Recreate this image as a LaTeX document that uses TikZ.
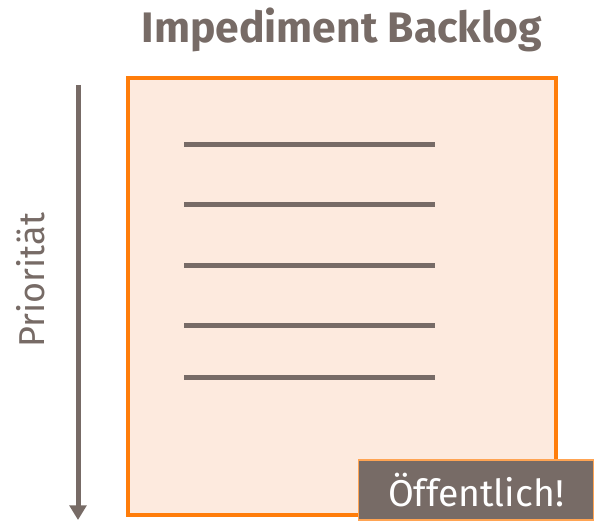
\documentclass[tikz,border=0pt]{standalone}
\usepackage{fontspec}
\setmainfont{Fira Sans}
\usetikzlibrary{positioning, arrows.meta}
\definecolor{TaupeColor}{RGB}{119,107,102}
\definecolor{OrangeColor}{RGB}{255,125,10}
\definecolor{PeachColor}{RGB}{253,234,222}
\tikzstyle{arrow} = [line width=3.75pt, TaupeColor, -{Triangle[length=11pt,width=12.5pt]}]
\tikzstyle{item} = [line width=3.75pt, TaupeColor]

\begin{document}
\begin{tikzpicture}[x=0.75pt, y=0.75pt]
    \useasboundingbox (0,0) rectangle (595,524);
    % Title
    \node[TaupeColor, font=\bfseries\fontsize{32}{36}\selectfont] (title) at (342,494) {Impediment Backlog};

    % Backlog box with its items
    \node[draw=OrangeColor, line width=3pt, fill=PeachColor, minimum width=321pt, minimum height=328pt, inner sep=0pt] (backlog) at (342,227.5) {};
    \foreach \y in {379,319,258,198,146}
        \draw[item] (184,\y) -- (435,\y);

    % Priority arrow
    \coordinate (high) at (78,439);
    \coordinate (low) at (78,4);
    \draw[arrow] (high) -- (low);
    \node[TaupeColor, rotate=90, font=\fontsize{27}{30}\selectfont] (prio) at (31,244) {Priorität};

    % Public label
    \node[draw=OrangeColor!70, line width=1pt, fill=TaupeColor, text=white, minimum width=176pt, minimum height=45pt, font=\fontsize{28}{32}\selectfont] (public) at (476,34) {Öffentlich!};
\end{tikzpicture}
\end{document}
